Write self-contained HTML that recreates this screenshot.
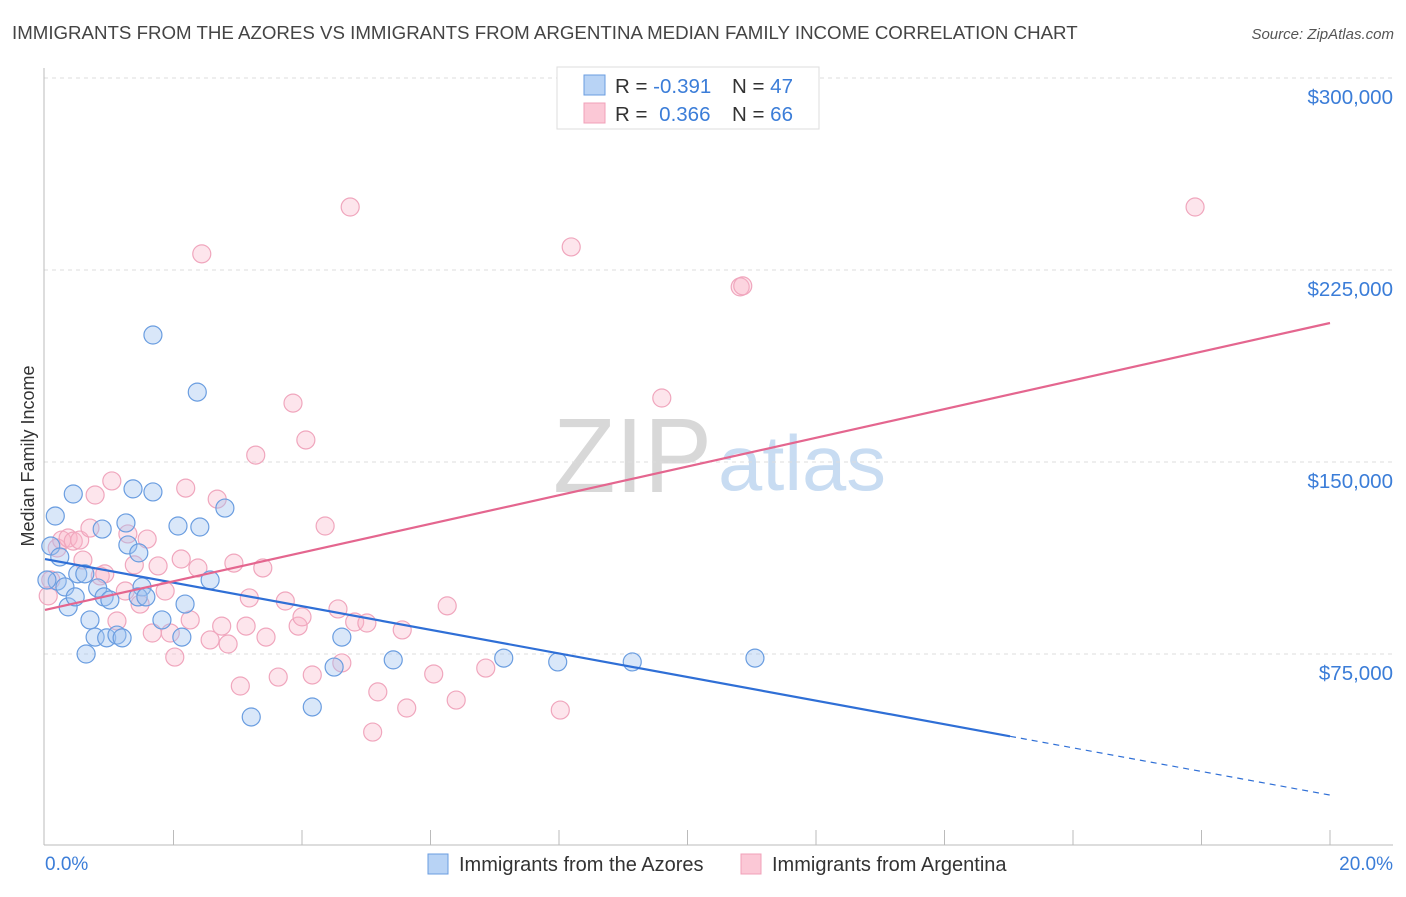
<!DOCTYPE html>
<html><head><meta charset="utf-8"><style>
body{margin:0;background:#fff;font-family:"Liberation Sans",sans-serif;}
svg text{font-family:"Liberation Sans",sans-serif;}
</style></head><body>
<svg id="chart" width="1406" height="892" viewBox="0 0 1406 892" xmlns="http://www.w3.org/2000/svg">
<text x="12" y="39" font-size="18.7" fill="#444">IMMIGRANTS FROM THE AZORES VS IMMIGRANTS FROM ARGENTINA MEDIAN FAMILY INCOME CORRELATION CHART</text>
<text x="1394" y="39" font-size="15" fill="#555" font-style="italic" text-anchor="end">Source: ZipAtlas.com</text>
<g>
<text x="553" y="492" font-size="106" fill="#d8d8d8" font-family="Liberation Serif, serif" textLength="159" lengthAdjust="spacingAndGlyphs">ZIP</text>
<text x="718" y="490" font-size="78" fill="#c8dcf2" textLength="168" lengthAdjust="spacingAndGlyphs">atlas</text>
</g>
<g id="grid"></g>
<g id="axes"></g>
<g id="pts"></g>
<g id="trends"></g>
<text transform="translate(34,456) rotate(-90)" font-size="18" fill="#333" text-anchor="middle">Median Family Income</text>
<g>
<rect x="557" y="67" width="262" height="62" fill="#fff" stroke="#ddd"/>
<rect x="584" y="75" width="21" height="20" fill="#b8d3f5" stroke="#6a9de0"/>
<rect x="584" y="103" width="21" height="20" fill="#fbc8d6" stroke="#f0a0b8"/>
<text x="615" y="93" font-size="20.5" fill="#333">R = <tspan fill="#3b7dd8">-0.391</tspan></text>
<text x="732" y="93" font-size="20.5" fill="#333">N = <tspan fill="#3b7dd8">47</tspan></text>
<text x="615" y="121" font-size="20.5" fill="#333">R = <tspan fill="#3b7dd8" dx="6">0.366</tspan></text>
<text x="732" y="121" font-size="20.5" fill="#333">N = <tspan fill="#3b7dd8">66</tspan></text>
</g>
<g>
<rect x="428" y="854" width="20" height="20" fill="#b8d3f5" stroke="#6a9de0"/>
<text x="459" y="871" font-size="20" fill="#333">Immigrants from the Azores</text>
<rect x="741" y="854" width="20" height="20" fill="#fbc8d6" stroke="#f0a0b8"/>
<text x="772" y="871" font-size="20" fill="#333">Immigrants from Argentina</text>
</g>
</svg>
<script>
const blueX=[0.16,0.44,0.09,0.23,0.19,0.31,0.36,0.47,0.51,0.62,0.70,0.78,0.64,0.89,0.82,0.92,1.01,0.96,1.12,1.20,1.26,1.29,1.37,1.46,1.51,1.45,1.57,1.68,1.82,2.07,2.13,2.18,2.41,2.57,2.80,2.37,1.68,3.21,4.16,4.50,4.62,5.42,7.14,7.98,9.14,11.05,0.03];
const blueY=[128.9,137.5,117.2,112.9,103.5,101.2,93.4,97.3,106.3,106.3,88.3,81.6,75.0,123.8,100.8,97.3,96.1,81.3,82.4,81.3,126.2,117.6,139.5,114.5,101.2,97.3,97.3,138.3,88.3,125.0,81.6,94.5,124.6,103.9,132.0,177.3,199.6,50.4,54.3,69.9,81.6,72.7,73.4,71.9,71.9,73.4,103.9];
const pinkX=[0.09,0.05,0.19,0.26,0.36,0.44,0.54,0.59,0.70,0.78,0.86,0.93,1.04,1.12,1.25,1.29,1.39,1.48,1.59,1.67,1.76,1.87,1.95,2.02,2.12,2.19,2.26,2.38,2.44,2.57,2.68,2.75,2.85,2.94,3.04,3.18,3.13,3.28,3.39,3.44,3.63,3.74,3.86,3.94,4.00,4.06,4.16,4.36,4.56,4.62,4.75,4.82,5.01,5.10,5.18,5.56,5.63,6.05,6.26,6.40,6.86,8.02,8.19,9.60,10.82,10.86,17.90];
const pinkY=[103.9,97.7,116.4,119.5,120.3,119.1,119.5,111.7,124.2,137.1,105.5,106.3,142.6,87.9,99.6,121.9,109.8,94.5,119.9,83.2,109.4,99.6,83.2,73.8,112.1,139.8,88.3,108.6,231.3,80.5,135.5,85.9,78.9,110.5,62.5,96.9,85.9,152.7,108.6,81.6,66.0,95.7,173.0,85.9,89.5,158.6,66.8,125.0,92.6,71.5,249.6,87.5,87.1,44.5,60.2,84.4,53.9,67.2,93.8,57.0,69.5,53.1,234.0,175.0,218.4,218.8,249.6];
const blueTrend=[112.1,19.9];   // y at x=0 and x=20
const pinkTrend=[92.2,204.3];
const yTicks=[75,150,225,300];
const yTickLabels=["$75,000","$150,000","$225,000","$300,000"];
const xTickLabels=["0.0%","20.0%"];

const NS="http://www.w3.org/2000/svg";
const X0=45,X1=1330,YB=846,PXK=192/75;
const sx=v=>X0+(X1-X0)*v/20;
const sy=v=>YB-v*PXK;
function mk(tag,attrs,parent){const e=document.createElementNS(NS,tag);for(const k in attrs)e.setAttribute(k,attrs[k]);parent.appendChild(e);return e;}
const grid=document.getElementById('grid'),axes=document.getElementById('axes'),pts=document.getElementById('pts'),tr=document.getElementById('trends');
yTicks.forEach((t,i)=>{
  const l=mk('line',{x1:44,x2:1393,y1:sy(t),y2:sy(t),stroke:'#ddd','stroke-dasharray':'4,4'},grid);
  
  
  const tx=mk('text',{x:1393,y:sy(t)+26,'font-size':20.5,fill:'#3b7dd8','text-anchor':'end'},axes);
  tx.textContent=yTickLabels[i];
  
  
});
mk('line',{x1:44,x2:44,y1:68,y2:845,stroke:'#bbb'},axes);
mk('line',{x1:44,x2:1393,y1:845,y2:845,stroke:'#bbb'},axes);
for(let i=1;i<=10;i++){const x=sx(i*2);mk('line',{x1:x,x2:x,y1:830,y2:845,stroke:'#bbb'},axes);}
const xl0=mk('text',{x:45,y:870,'font-size':19,fill:'#3b7dd8'},axes);xl0.textContent=xTickLabels[0];


const xl1=mk('text',{x:1393,y:870,'font-size':19,fill:'#3b7dd8','text-anchor':'end'},axes);xl1.textContent=xTickLabels[1];


pinkX.forEach((x,i)=>{
  const c=mk('circle',{cx:sx(x),cy:sy(pinkY[i]),r:9,fill:'rgba(248,180,200,0.35)',stroke:'#f0a6bd','stroke-width':1.2},pts);
  
  
});
blueX.forEach((x,i)=>{
  const c=mk('circle',{cx:sx(x),cy:sy(blueY[i]),r:9,fill:'rgba(160,196,240,0.4)',stroke:'#6a9de0','stroke-width':1.2},pts);
  
  
});
const bAt=x=>blueTrend[0]+(blueTrend[1]-blueTrend[0])*x/20;
const xs=15.02;
const bl=mk('line',{x1:sx(0),y1:sy(bAt(0)),x2:sx(xs),y2:sy(bAt(xs)),stroke:'#2f6fd6','stroke-width':2.2},tr);


const bd=mk('line',{x1:sx(xs),y1:sy(bAt(xs)),x2:sx(20),y2:sy(bAt(20)),stroke:'#2f6fd6','stroke-width':1.2,'stroke-dasharray':'6,5'},tr);


const pl=mk('line',{x1:sx(0),y1:sy(pinkTrend[0]),x2:sx(20),y2:sy(pinkTrend[1]),stroke:'#e4668f','stroke-width':2.2},tr);


</script>
</body></html>
